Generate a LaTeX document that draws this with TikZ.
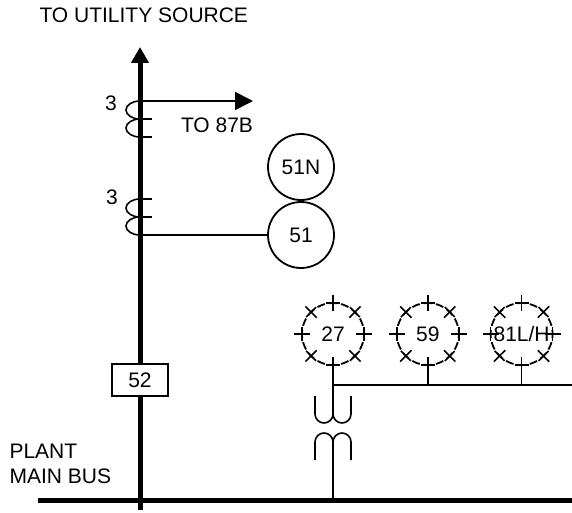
\documentclass[tikz,border=0pt]{standalone}
\usepackage{fontspec}
\setmainfont{Liberation Sans}
\usetikzlibrary{positioning,arrows.meta}

\begin{document}
\begin{tikzpicture}[x=1pt,y=-1pt,
  every node/.style={font=\fontsize{21}{25}\selectfont},
  wire/.style={line width=1.6pt},
  mainline/.style={line width=5pt},
  relay/.style={circle,draw,line width=1.8pt,minimum size=66pt,inner sep=0pt},
  dashrelay/.style={circle,draw,line width=1.8pt,minimum size=62pt,inner sep=0pt,
    dash pattern=on 8pt off 4.17pt,dash phase=4pt},
  cbbox/.style={draw,fill=white,line width=1.6pt,minimum width=56pt,minimum height=32pt,inner sep=0pt}]
  \useasboundingbox (0,0) rectangle (572,513);

  % main feeder and plant bus
  \coordinate (src) at (140,47);
  \coordinate (foot) at (140,510);
  \coordinate (busw) at (38,500);
  \coordinate (buse) at (572,500);
  \node[cbbox] (cb52) at (140,380) {52};
  \draw[mainline,-{Triangle[length=16pt,width=17pt]}] (cb52) -- (src);
  \draw[mainline] (cb52) -- (foot);
  \draw[mainline] (busw) -- (buse);
  \node[anchor=west] (utility) at (36,15) {TO UTILITY SOURCE};
  \node[anchor=west,align=left] (plantbus) at (6,464) {PLANT\\MAIN BUS};

  % current transformers
  \coordinate (ct1) at (140,101);
  \coordinate (ct2) at (140,235);
  \coordinate (to87) at (253,101);
  \draw[wire] (ct1) arc[start angle=270,end angle=90,x radius=14,y radius=9]
    arc[start angle=270,end angle=90,x radius=14,y radius=9];
  \draw[wire] (140,199) arc[start angle=270,end angle=90,x radius=14,y radius=9]
    arc[start angle=270,end angle=90,x radius=14,y radius=9];
  \foreach \y in {119,137,199,217}
    \draw[wire] (140,\y) -- (152,\y);
  \node (ctr1) at (111,103) {3};
  \node (ctr2) at (112,197) {3};
  \draw[wire,-{Triangle[length=18pt,width=18pt]}] (ct1) -- (to87);
  \node (diff) at (217,125) {TO 87B};

  % overcurrent relays
  \node[relay] (r51n) at (301,167) {51N};
  \node[relay] (r51) at (301,235) {51};
  \draw[wire] (ct2) -- (r51.west);

  % bus relays
  \node[dashrelay] (r27) at (333,334) {27};
  \node[dashrelay,right=31pt of r27] (r59) {59};
  \node[dashrelay,right=30pt of r59] (r81) {81L/H};
  \foreach \r in {r27,r59,r81}
    \foreach \a in {0,45,...,315} {
      \draw[wire,shift={(\r.center)}] (\a:23) -- (\a:39);
      \draw[wire,shift={(\r.center)}] (\a:31) ++(\a+90:7) -- ++(\a-90:14);
    }
  \coordinate (vtbus) at (333,385);
  \coordinate (vtend) at (572,385);
  \draw[wire] (vtbus) -- (vtend);
  \draw[wire] (r59.south) -- (r59.south |- vtbus);
  \draw[wire] (r81.south) -- (r81.south |- vtbus);

  % voltage transformer
  \coordinate (vttop) at (333,414);
  \coordinate (vtlow) at (333,442);
  \coordinate (vtfoot) at (333,500);
  \draw[wire] (r27.south) -- (vttop);
  \draw[wire] (315,396) -- (315,414) arc[start angle=180,end angle=0,radius=9]
    arc[start angle=180,end angle=0,radius=9] -- (351,396);
  \draw[wire] (315,460) -- (315,442) arc[start angle=180,end angle=360,radius=9]
    arc[start angle=180,end angle=360,radius=9] -- (351,460);
  \draw[wire] (vtlow) -- (vtfoot);
\end{tikzpicture}
\end{document}
